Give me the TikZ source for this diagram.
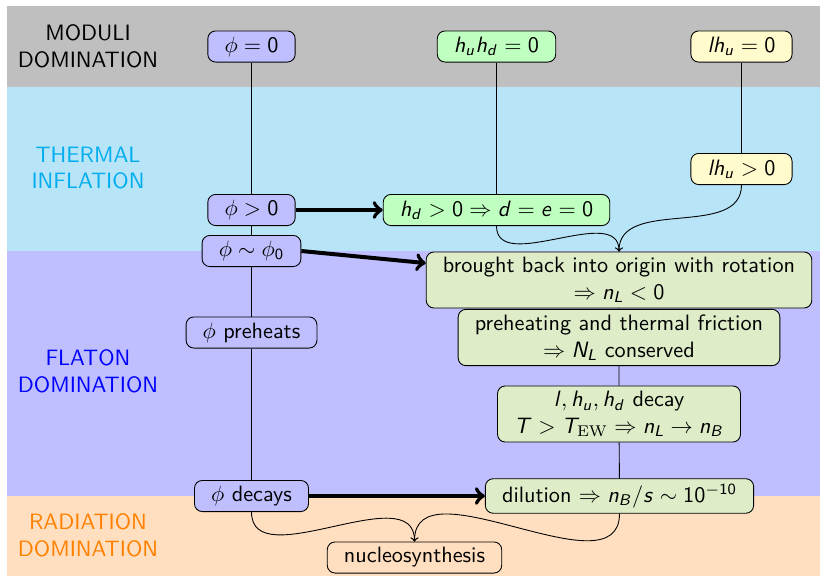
\documentclass[tikz,border=0pt]{standalone}
\usepackage{tikz}
\renewcommand\familydefault{\sfdefault}
\DeclareSymbolFont{sfletters}{OT1}{cmss}{m}{sl}
\DeclareSymbolFont{sfdigits}{OT1}{cmss}{m}{n}
\newcommand\sfletter[1]{\DeclareMathSymbol{#1}{\mathalpha}{sfletters}{`#1}}
\newcommand\sfdigit[1]{\DeclareMathSymbol{#1}{\mathalpha}{sfdigits}{`#1}}
\sfletter{d}\sfletter{e}\sfletter{h}\sfletter{l}\sfletter{n}\sfletter{s}\sfletter{u}
\sfletter{B}\sfletter{L}\sfletter{N}\sfletter{T}
\sfdigit{0}\sfdigit{1}
\definecolor{thermalbg}{RGB}{183,228,247}
\definecolor{thermalfg}{RGB}{0,174,239}
\definecolor{sleptonbg}{RGB}{255,251,204}
\definecolor{leptobg}{RGB}{222,236,200}

\begin{document}
\begin{tikzpicture}[x=0.45pt,y=-0.45pt,
	era/.style={align=center},
	state/.style={draw,rounded corners=3.5pt,inner xsep=7.5pt,inner ysep=2.4pt,minimum height=14pt,align=center},
	flaton/.style={state,fill=blue!25},
	higgs/.style={state,fill=green!25},
	slepton/.style={state,fill=sleptonbg},
	lepto/.style={state,fill=leptobg},
	jump/.style={->,line width=1.8pt}]
\useasboundingbox[fill=white] (0,0) rectangle (820,576);
\fill[gray!50] (7,6) rectangle (820,87);
\fill[thermalbg] (7,87) rectangle (820,251);
\fill[blue!25] (7,251) rectangle (820,496);
\fill[orange!25] (7,496) rectangle (820,576);

\node[era] (moduli) at (88,46) {MODULI\\DOMINATION};
\node[era,text=thermalfg] (thermal) at (88,168) {THERMAL\\INFLATION};
\node[era,text=blue] (flat) at (88,371) {FLATON\\DOMINATION};
\node[era,text=orange] (rad) at (88,535) {RADIATION\\DOMINATION};

\node[flaton] (p0) at (251.5,46.5) {$\phi=0$};
\node[flaton] (p1) at (251.5,210) {$\phi>0$};
\node[flaton] (p2) at (251.5,251) {$\phi\sim\phi_0$};
\node[flaton] (p3) at (251.5,332.5) {$\phi$ preheats};
\node[flaton] (p4) at (251.5,496) {$\phi$ decays};
\node[higgs] (hh0) at (496.5,46.5) {$h_uh_d=0$};
\node[higgs] (hd1) at (496.5,210) {$h_d>0\Rightarrow d=e=0$};
\node[slepton] (lh0) at (741.5,46.5) {$lh_u=0$};
\node[slepton] (lh1) at (741.5,169) {$lh_u>0$};
\node[lepto] (rot) at (619,280) {brought back into origin with rotation\\$\Rightarrow n_L<0$};
\node[lepto] (fric) at (619,337.5) {preheating and thermal friction\\$\Rightarrow N_L$ conserved};
\node[lepto] (dec) at (619,414) {$l,h_u,h_d$ decay\\$T>T_{\mathrm{EW}}\Rightarrow n_L\to n_B$};
\node[lepto] (dil) at (619.5,496) {dilution $\Rightarrow n_B/s\sim10^{-10}$};
\node[state,fill=orange!25] (ns) at (414.5,557.5) {nucleosynthesis};

\draw (p0) -- (p1) -- (p2) -- (p3) -- (p4);
\draw (hh0) -- (hd1);
\draw (lh0) -- (lh1);
\draw (rot) -- (fric) -- (dec) -- (dil);
\draw[->] (hd1.south) to[out=-90,in=90] (rot.north);
\draw[->] (lh1.south) to[out=-90,in=90] (rot.north);
\draw[->] (p4.south) to[out=-90,in=90] (ns.north);
\draw[->] (dil.south) to[out=-90,in=90] (ns.north);
\draw[jump] (p1) -- (hd1);
\draw[jump] (p2.east) -- (rot.175);
\draw[jump] (p4) -- (dil);
\end{tikzpicture}
\end{document}
